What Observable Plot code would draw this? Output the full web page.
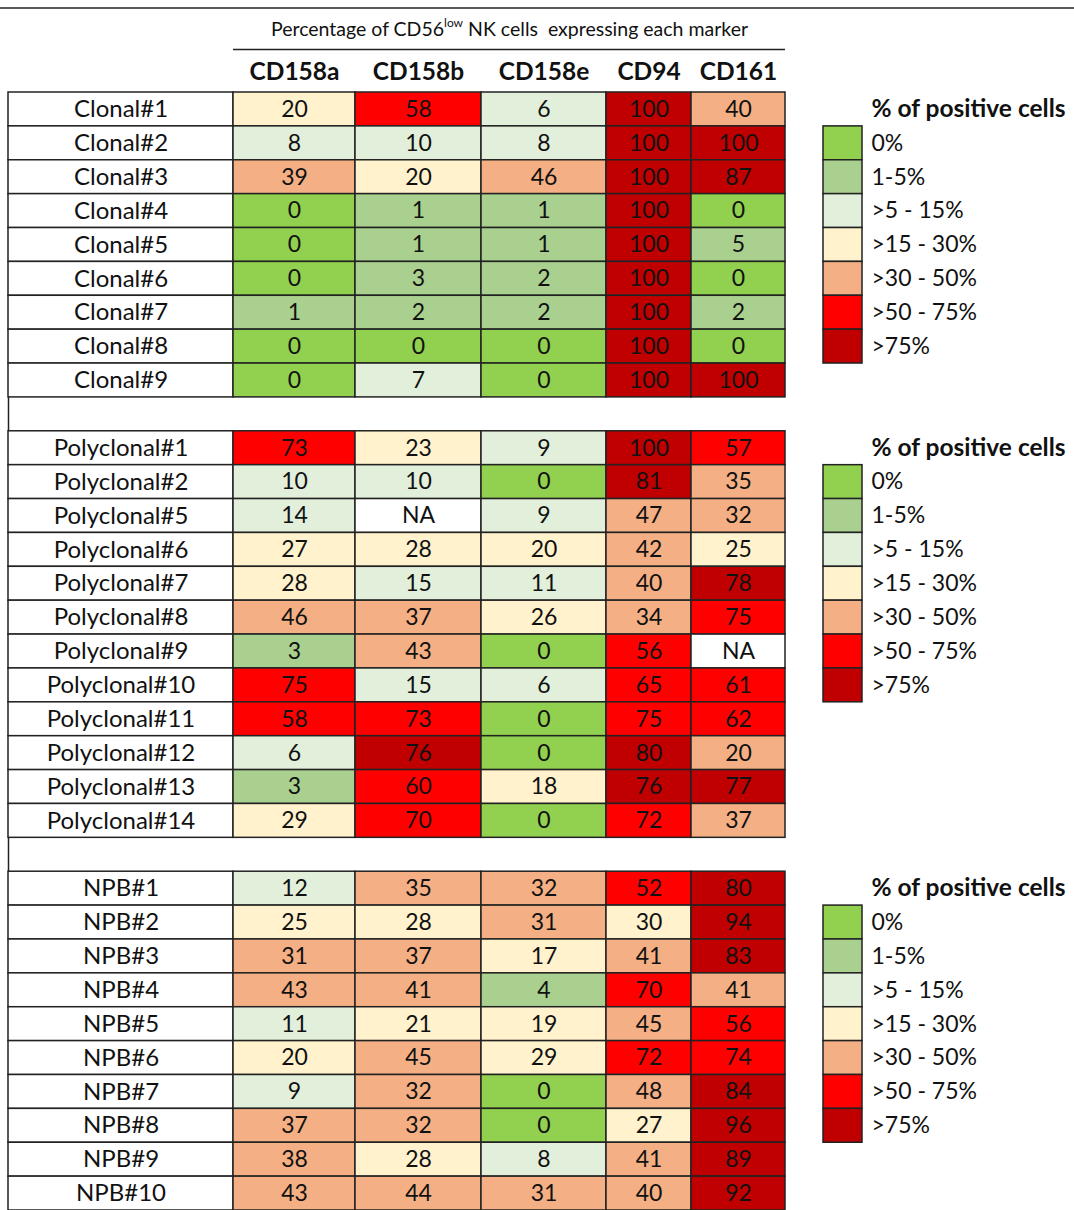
<!DOCTYPE html>
<html>
<head>
<meta charset="utf-8">
<script src="https://cdn.jsdelivr.net/npm/d3@7"></script>
<script src="https://cdn.jsdelivr.net/npm/@observablehq/plot@0.6"></script>
<style>
  html, body { margin: 0; padding: 0; background: #fff; }
  #chart svg { display: block; }
</style>
</head>
<body>
<div id="chart"></div>
<script>
// ---------- DATA ----------
const markers = ["CD158a", "CD158b", "CD158e", "CD94", "CD161"];

const clonalLabels = ["Clonal#1","Clonal#2","Clonal#3","Clonal#4","Clonal#5","Clonal#6","Clonal#7","Clonal#8","Clonal#9"];
const clonalCD158a = [20, 8, 39, 0, 0, 0, 1, 0, 0];
const clonalCD158b = [58, 10, 20, 1, 1, 3, 2, 0, 7];
const clonalCD158e = [6, 8, 46, 1, 1, 2, 2, 0, 0];
const clonalCD94   = [100, 100, 100, 100, 100, 100, 100, 100, 100];
const clonalCD161  = [40, 100, 87, 0, 5, 0, 2, 0, 100];

const polyLabels = ["Polyclonal#1","Polyclonal#2","Polyclonal#5","Polyclonal#6","Polyclonal#7","Polyclonal#8","Polyclonal#9","Polyclonal#10","Polyclonal#11","Polyclonal#12","Polyclonal#13","Polyclonal#14"];
const polyCD158a = [73, 10, 14, 27, 28, 46, 3, 75, 58, 6, 3, 29];
const polyCD158b = [23, 10, null, 28, 15, 37, 43, 15, 73, 76, 60, 70];
const polyCD158e = [9, 0, 9, 20, 11, 26, 0, 6, 0, 0, 18, 0];
const polyCD94   = [100, 81, 47, 42, 40, 34, 56, 65, 75, 80, 76, 72];
const polyCD161  = [57, 35, 32, 25, 78, 75, null, 61, 62, 20, 77, 37];

const npbLabels = ["NPB#1","NPB#2","NPB#3","NPB#4","NPB#5","NPB#6","NPB#7","NPB#8","NPB#9","NPB#10"];
const npbCD158a = [12, 25, 31, 43, 11, 20, 9, 37, 38, 43];
const npbCD158b = [35, 28, 37, 41, 21, 45, 32, 32, 28, 44];
const npbCD158e = [32, 31, 17, 4, 19, 29, 0, 0, 8, 31];
const npbCD94   = [52, 30, 41, 70, 45, 72, 48, 27, 41, 40];
const npbCD161  = [80, 94, 83, 41, 56, 74, 84, 96, 89, 92];

const categories = ["0%", "1-5%", ">5 - 15%", ">15 - 30%", ">30 - 50%", ">50 - 75%", ">75%"];
// a cell whose colour class in the source differs from its printed value
const categoryOverrides = {"Polyclonal#12|CD161": ">30 - 50%"};
const legendTitle = "% of positive cells";
const headerTitle = "Percentage of CD56low NK cells  expressing each marker";

// ---------- STYLE / LAYOUT ----------
const palette = ["#92D050", "#A9D08E", "#E2EFDA", "#FFF2CC", "#F4B084", "#FF0000", "#C00000"];
const W = 1074, H = 1210, tableTop = 92;
const nRows = 33;
const rowH = (H - tableTop) / nRows;
const labelCol = [8, 233];
const colEdges = {CD158a: [233, 355], CD158b: [355, 481], CD158e: [481, 606], CD94: [606, 691], CD161: [691, 785]};
const legendSw = [823, 862], legendTextX = 871;
const FONT = "Lato, 'Open Sans', sans-serif";
const STROKE = "#222";

// ---------- BUILD TABLE ----------
function category(v) {
  if (v == null) return "NA";
  if (v === 0) return categories[0];
  if (v <= 5) return categories[1];
  if (v <= 15) return categories[2];
  if (v <= 30) return categories[3];
  if (v <= 50) return categories[4];
  if (v <= 75) return categories[5];
  return categories[6];
}
const groups = [
  {labels: clonalLabels, cols: [clonalCD158a, clonalCD158b, clonalCD158e, clonalCD94, clonalCD161]},
  {labels: polyLabels,   cols: [polyCD158a, polyCD158b, polyCD158e, polyCD94, polyCD161]},
  {labels: npbLabels,    cols: [npbCD158a, npbCD158b, npbCD158e, npbCD94, npbCD161]}
];
const rows = [], cells = [], gaps = [], legendAnchors = [];
let r = 0;
groups.forEach((g, gi) => {
  legendAnchors.push(r);
  g.labels.forEach((lab, i) => {
    rows.push({label: lab, row: r});
    markers.forEach((m, j) => {
      const v = g.cols[j][i];
      const cat = categoryOverrides[lab + "|" + m] || category(v);
      cells.push({label: lab, marker: m, value: v, cat, row: r});
    });
    r++;
  });
  if (gi < groups.length - 1) { gaps.push({row: r}); r++; }
});
const legendTitles = legendAnchors.map(a => ({row: a, text: legendTitle}));
const legendItems = legendAnchors.flatMap(a => categories.map((c, k) => ({row: a + 1 + k, cat: c})));
const colHeads = markers.map(m => ({marker: m}));

const cx = (e) => (e[0] + e[1]) / 2;

const chart = Plot.plot({
  width: W, height: H,
  margin: 0,
  style: {fontFamily: FONT, background: "#fff"},
  x: {domain: [0, W], range: [0, W], axis: null},
  y: {domain: [-tableTop / rowH, nRows], range: [0, H], axis: null},
  color: {type: "ordinal", domain: [...categories, "NA"], range: [...palette, "#FFFFFF"]},
  marks: [
    // header rules
    Plot.ruleY([-(tableTop - 7.5) / rowH], {x1: 0, x2: W, stroke: "#222", strokeWidth: 1.6}),
    Plot.ruleY([-(tableTop - 49) / rowH], {x1: colEdges.CD158a[0], x2: colEdges.CD161[1], stroke: "#222", strokeWidth: 1.6}),
    Plot.text([headerTitle], {x: cx([colEdges.CD158a[0], colEdges.CD161[1]]), y: -(tableTop - 29) / rowH, text: d => d, fontSize: 19.5, fill: "#111"}),
    Plot.text(colHeads, {x: d => cx(colEdges[d.marker]), y: -(tableTop - 72) / rowH, text: "marker", fontSize: 24.5, fontWeight: "bold", fill: "#111"}),
    // label column
    Plot.rect(rows, {x1: labelCol[0], x2: labelCol[1], y1: "row", y2: d => d.row + 1, fill: "#fff", stroke: STROKE, strokeWidth: 1.5}),
    Plot.text(rows, {x: cx(labelCol), y: d => d.row + 0.5, text: "label", fontSize: 24, fill: "#111"}),
    // gap rows left border
    Plot.ruleX(gaps, {x: labelCol[0], y1: "row", y2: d => d.row + 1, stroke: STROKE, strokeWidth: 1.5}),
    // value cells
    Plot.rect(cells, {x1: d => colEdges[d.marker][0], x2: d => colEdges[d.marker][1], y1: "row", y2: d => d.row + 1, fill: "cat", stroke: STROKE, strokeWidth: 1.5}),
    Plot.text(cells, {x: d => cx(colEdges[d.marker]), y: d => d.row + 0.5, text: d => d.value == null ? "NA" : String(d.value), fontSize: 23, fill: "#111"}),
    // legends
    Plot.text(legendTitles, {x: legendTextX, y: d => d.row + 0.5, text: "text", textAnchor: "start", fontSize: 24.5, fontWeight: "bold", fill: "#111"}),
    Plot.rect(legendItems, {x1: legendSw[0], x2: legendSw[1], y1: "row", y2: d => d.row + 1, fill: "cat", stroke: STROKE, strokeWidth: 1.5}),
    Plot.text(legendItems, {x: legendTextX, y: d => d.row + 0.5, text: "cat", textAnchor: "start", fontSize: 23, fill: "#111"})
  ]
});
document.getElementById("chart").appendChild(chart);

// superscript "low" in the header title
d3.select(chart).selectAll("text").each(function() {
  const t = d3.select(this);
  if (t.text() === headerTitle) {
    t.text(null);
    t.append("tspan").text("Percentage of CD56");
    t.append("tspan").attr("font-size", 12).attr("dy", "-0.7em").text("low");
    t.append("tspan").attr("dy", "0.45em").text(" NK cells \u00a0expressing each marker");
  }
});
</script>
</body>
</html>
